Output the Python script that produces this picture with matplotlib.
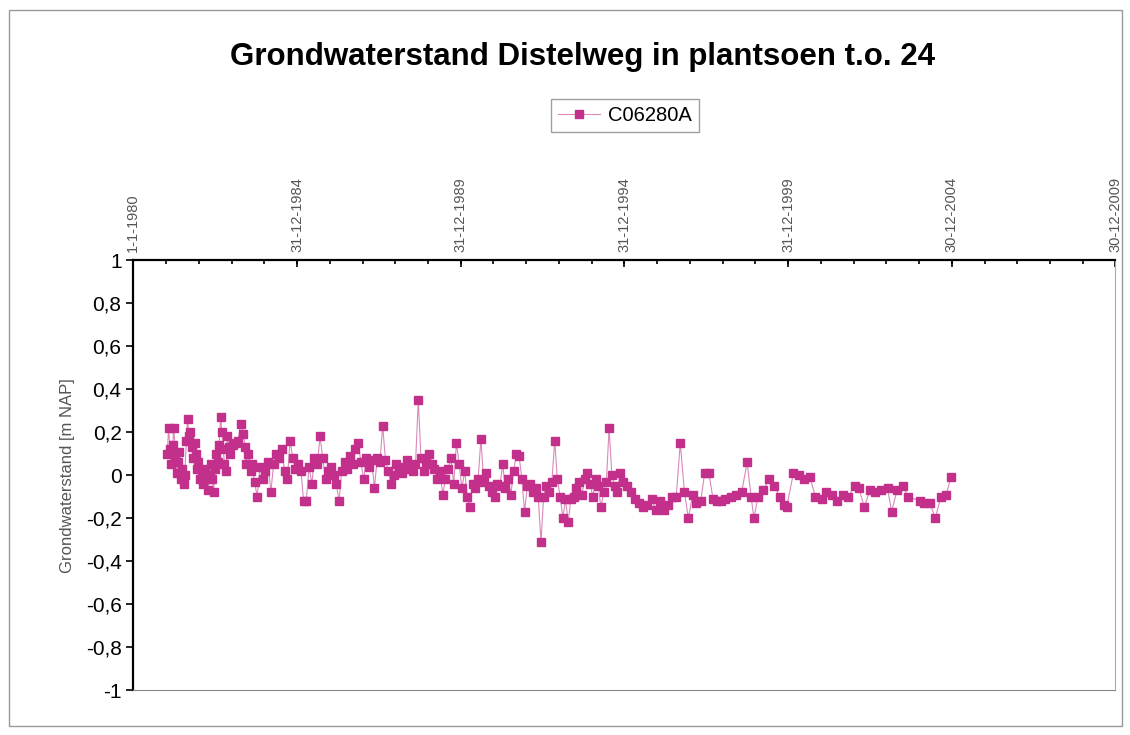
import matplotlib
matplotlib.use("Agg")
import matplotlib.pyplot as plt
import matplotlib.dates as mdates
from matplotlib.patches import Rectangle
from matplotlib.ticker import FuncFormatter
import pandas as pd

# meetreeks C06280A
dates = [
    "1981-01-14", "1981-01-28", "1981-02-14", "1981-02-28", "1981-03-14", "1981-03-28",
    "1981-04-14", "1981-04-28", "1981-05-14", "1981-05-28", "1981-06-14", "1981-06-28",
    "1981-07-14", "1981-07-28", "1981-08-14", "1981-08-28", "1981-09-14", "1981-09-28",
    "1981-10-14", "1981-10-28", "1981-11-14", "1981-11-28", "1981-12-14", "1981-12-28",
    "1982-01-14", "1982-02-01", "1982-02-14", "1982-03-01", "1982-03-14", "1982-04-01",
    "1982-04-14", "1982-05-01", "1982-05-14", "1982-06-01", "1982-06-14", "1982-07-01",
    "1982-07-14", "1982-08-01", "1982-08-14", "1982-09-01", "1982-09-14", "1982-10-01",
    "1982-10-14", "1982-11-01", "1982-11-14", "1982-12-01", "1982-12-14",
    "1983-01-14", "1983-02-14", "1983-03-14", "1983-04-14", "1983-05-14", "1983-06-01",
    "1983-06-14", "1983-07-01", "1983-08-01", "1983-08-14", "1983-09-14", "1983-10-14",
    "1983-11-14", "1983-12-14",
    "1984-01-14", "1984-02-14", "1984-03-14", "1984-04-14", "1984-05-14", "1984-06-14",
    "1984-07-14", "1984-08-14", "1984-09-14", "1984-10-14", "1984-11-14", "1984-12-14",
    "1985-01-14", "1985-02-14", "1985-03-14", "1985-04-14", "1985-05-14", "1985-06-14",
    "1985-07-14", "1985-08-14", "1985-09-14", "1985-10-14", "1985-11-14", "1985-12-14",
    "1986-01-14", "1986-02-14", "1986-03-14", "1986-04-14", "1986-05-14", "1986-06-14",
    "1986-07-14", "1986-08-14", "1986-09-14", "1986-10-14", "1986-11-14", "1986-12-14",
    "1987-01-14", "1987-02-14", "1987-03-14", "1987-04-14", "1987-05-14", "1987-06-14",
    "1987-07-14", "1987-08-14", "1987-09-14", "1987-10-14", "1987-11-14", "1987-12-14",
    "1988-01-14", "1988-02-14", "1988-03-14", "1988-04-14", "1988-05-14", "1988-06-14",
    "1988-07-14", "1988-08-14", "1988-09-14", "1988-10-14", "1988-11-14", "1988-12-14",
    "1989-01-14", "1989-02-14", "1989-03-14", "1989-04-14", "1989-05-14", "1989-06-14",
    "1989-07-14", "1989-08-14", "1989-09-14", "1989-10-14", "1989-11-14", "1989-12-14",
    "1990-01-14", "1990-02-14", "1990-03-14", "1990-04-14", "1990-05-14", "1990-06-14",
    "1990-07-14", "1990-08-14", "1990-09-14", "1990-10-14", "1990-11-14", "1990-12-14",
    "1991-01-14", "1991-02-14", "1991-03-14", "1991-04-14", "1991-05-14", "1991-06-14",
    "1991-07-14", "1991-08-14", "1991-09-14", "1991-10-14", "1991-11-14", "1991-12-14",
    "1992-01-14", "1992-02-14", "1992-03-14", "1992-04-14", "1992-05-14", "1992-06-14",
    "1992-07-14", "1992-08-14", "1992-09-14", "1992-10-14", "1992-11-14", "1992-12-14",
    "1993-01-14", "1993-02-14", "1993-03-14", "1993-04-14", "1993-05-14", "1993-06-14",
    "1993-07-14", "1993-08-14", "1993-09-14", "1993-10-14", "1993-11-14", "1993-12-14",
    "1994-01-14", "1994-02-14", "1994-03-14", "1994-04-14", "1994-05-14", "1994-06-14",
    "1994-07-14", "1994-08-14", "1994-09-14", "1994-10-14", "1994-11-14", "1994-12-14",
    "1995-02-01", "1995-03-15", "1995-05-01", "1995-06-15", "1995-08-01", "1995-09-15",
    "1995-11-01", "1995-12-15",
    "1996-02-01", "1996-03-15", "1996-05-01", "1996-06-15", "1996-08-01", "1996-09-15",
    "1996-11-01", "1996-12-15",
    "1997-02-01", "1997-03-15", "1997-05-01", "1997-06-15", "1997-08-01", "1997-09-15",
    "1997-11-01", "1997-12-15",
    "1998-02-01", "1998-04-01", "1998-06-01", "1998-08-01", "1998-10-01", "1998-11-15",
    "1998-12-15",
    "1999-02-01", "1999-04-01", "1999-06-01", "1999-08-01", "1999-10-01", "1999-11-15",
    "1999-12-15",
    "2000-03-01", "2000-05-01", "2000-07-01", "2000-09-01", "2000-11-01",
    "2001-01-15", "2001-03-01", "2001-05-01", "2001-07-01", "2001-09-01", "2001-11-01",
    "2002-01-15", "2002-03-01", "2002-05-01", "2002-07-01", "2002-09-01", "2002-11-01",
    "2003-01-15", "2003-03-01", "2003-05-01", "2003-07-01", "2003-09-01",
    "2004-01-15", "2004-03-01", "2004-05-01", "2004-07-01", "2004-09-01", "2004-11-01",
    "2004-12-20",
]

levels = [
    0.10, 0.22, 0.12, 0.05, 0.14, 0.22, 0.08, 0.01, 0.06, 0.11, -0.02, 0.03,
    -0.04, 0.00, 0.16, 0.26, 0.18, 0.20, 0.13, 0.08, 0.15, 0.10, 0.03, 0.06,
    -0.02, 0.01, -0.04, 0.00, 0.03, -0.02, -0.07, 0.00, 0.05, -0.02, -0.08, 0.03,
    0.10, 0.06, 0.14, 0.27, 0.20, 0.12, 0.05, 0.02, 0.18, 0.13, 0.10,
    0.14, 0.15, 0.16, 0.24, 0.19, 0.13, 0.05, 0.10, 0.02, 0.05, -0.03, -0.10,
    0.04, -0.02,
    0.02, 0.06, -0.08, 0.05, 0.10, 0.08, 0.12, 0.02, -0.02, 0.16, 0.08, 0.03,
    0.05, 0.02, -0.12, -0.12, 0.04, -0.04, 0.08, 0.05, 0.18, 0.08, -0.02, 0.02,
    0.04, 0.00, -0.04, -0.12, 0.02, 0.06, 0.03, 0.09, 0.05, 0.12, 0.15, 0.06,
    -0.02, 0.08, 0.04, 0.07, -0.06, 0.08, 0.06, 0.23, 0.07, 0.02, -0.04, 0.00,
    0.05, 0.02, 0.01, 0.04, 0.07, 0.03, 0.02, 0.05, 0.35, 0.08, 0.02, 0.06,
    0.10, 0.05, 0.03, -0.02, 0.02, -0.09, -0.02, 0.03, 0.08, -0.04, 0.15, 0.05,
    -0.06, 0.02, -0.10, -0.15, -0.04, -0.06, -0.02, 0.17, -0.03, 0.01, -0.05, -0.08,
    -0.10, -0.04, -0.05, 0.05, -0.06, -0.02, -0.09, 0.02, 0.10, 0.09, -0.02, -0.17,
    -0.05, -0.04, -0.08, -0.06, -0.10, -0.31, -0.10, -0.05, -0.08, -0.03, 0.16, -0.02,
    -0.10, -0.20, -0.11, -0.22, -0.11, -0.10, -0.06, -0.03, -0.09, -0.02, 0.01, -0.04,
    -0.10, -0.02, -0.05, -0.15, -0.08, -0.03, 0.22, 0.00, -0.05, -0.08, 0.01, -0.03,
    -0.05, -0.08, -0.11, -0.13, -0.15, -0.14, -0.11, -0.16,
    -0.12, -0.16, -0.14, -0.10, -0.10, 0.15, -0.08, -0.20,
    -0.09, -0.13, -0.12, 0.01, 0.01, -0.11, -0.12, -0.12,
    -0.11, -0.10, -0.09, -0.08, 0.06, -0.10, -0.20,
    -0.10, -0.07, -0.02, -0.05, -0.10, -0.14, -0.15,
    0.01, 0.00, -0.02, -0.01, -0.10,
    -0.11, -0.08, -0.09, -0.12, -0.09, -0.10,
    -0.05, -0.06, -0.15, -0.07, -0.08, -0.07,
    -0.06, -0.17, -0.07, -0.05, -0.10,
    -0.12, -0.13, -0.13, -0.20, -0.10, -0.09, -0.01,
]

tick_dates = ["1980-01-01", "1984-12-31", "1989-12-31", "1994-12-31",
              "1999-12-31", "2004-12-30", "2009-12-30"]
tick_labels = ["1-1-1980", "31-12-1984", "31-12-1989", "31-12-1994",
               "31-12-1999", "30-12-2004", "30-12-2009"]

x = pd.to_datetime(dates)
ticks = pd.to_datetime(tick_dates)

plt.rcParams['font.family'] = ['Liberation Sans', 'DejaVu Sans']

fig = plt.figure(figsize=(11.3, 7.35), dpi=100)
# rand van het grafiekgebied
fig.patches.append(Rectangle((0.008, 0.012), 0.985, 0.975, transform=fig.transFigure,
                             fill=False, edgecolor='#999999', linewidth=1.0))

ax = fig.add_axes([0.118, 0.061, 0.869, 0.585])

color = '#C2308C'
ax.plot(x, levels, '-', color='#D98AB8', linewidth=0.8, marker='s', markersize=6,
        markerfacecolor=color, markeredgecolor=color, label='C06280A')

ax.set_ylim(-1, 1)
ax.set_yticks([-1, -0.8, -0.6, -0.4, -0.2, 0, 0.2, 0.4, 0.6, 0.8, 1])
ax.yaxis.set_major_formatter(FuncFormatter(lambda v, p: ('%g' % round(v, 1)).replace('.', ',')))
ax.tick_params(axis='y', labelsize=15, direction='out', length=5, width=1.2, colors='black')

ax.set_xlim(ticks[0], ticks[-1])
ax.xaxis.tick_top()
ax.set_xticks(ticks)
ax.set_xticklabels(tick_labels, rotation=90, fontsize=10.5, color='#555555')
ax.xaxis.set_minor_locator(mdates.YearLocator(1))
ax.tick_params(axis='x', which='major', direction='in', length=5, width=1.2, pad=6)
ax.tick_params(axis='x', which='minor', top=True, direction='in', length=3, width=1.2)

ax.spines['top'].set_linewidth(1.6)
ax.spines['left'].set_linewidth(1.6)
ax.spines['right'].set_color('#AAAAAA')
ax.spines['bottom'].set_color('#888888')
ax.spines['right'].set_linewidth(0.8)
ax.spines['bottom'].set_linewidth(0.8)

ax.set_ylabel('Grondwaterstand [m NAP]', fontsize=12, color='#555555', labelpad=8)

fig.text(0.5155, 0.922, 'Grondwaterstand Distelweg in plantsoen t.o. 24', ha='center',
         va='center', fontsize=22.5, fontweight='bold')

fig.legend(loc='center', bbox_to_anchor=(0.553, 0.843), fontsize=14.5, frameon=True,
           fancybox=False, edgecolor='#888888', handlelength=2.1, handletextpad=0.4,
           borderpad=0.35)

fig.savefig('out.png', dpi=100)
